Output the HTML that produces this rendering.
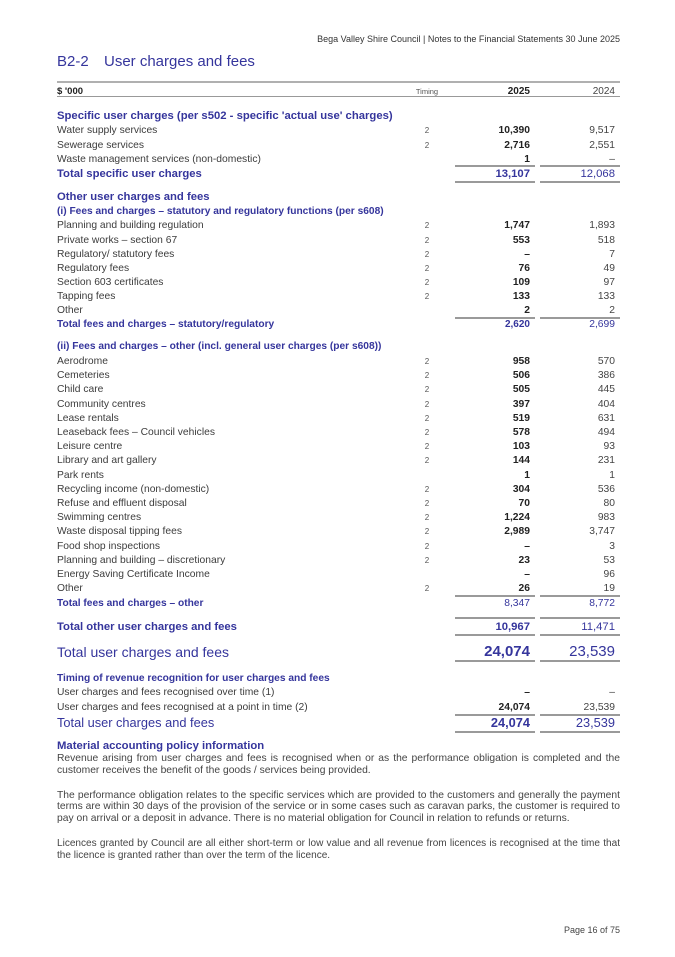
<!DOCTYPE html>
<html><head><meta charset="utf-8"><style>
*{margin:0;padding:0;box-sizing:border-box}
html,body{width:675px;height:957px;background:#fff;overflow:hidden}
body{position:relative;font-family:"Liberation Sans",Arial,sans-serif;color:#3c3c3c}
.a{position:absolute}
.r{position:absolute;left:57px;width:563px;height:14px;line-height:14px;font-size:10.3px;white-space:nowrap}
.r .t{position:absolute;left:360px;width:20px;text-align:center;font-size:8px;color:#555}
.r .c{position:absolute;right:90px;font-weight:bold;color:#222}
.r .d{position:absolute;right:5px;color:#444}
.bl{color:#35359c}
.h{font-weight:bold;color:#35359c}
.ln{position:absolute;height:2px;background:#9a9a9a}
.l1{left:455px;width:80px}
.l2{left:540px;width:80px}
p.par{position:absolute;left:57px;width:563px;font-size:10.3px;line-height:11.8px;text-align:justify;color:#444}
</style></head><body>

<div class="a" style="right:55px;top:33px;font-size:9px;line-height:12px;color:#333">Bega Valley Shire Council | Notes to the Financial Statements 30 June 2025</div>
<div class="a" style="left:57px;top:52px;font-size:15px;line-height:20px;color:#35359c">B2-2</div>
<div class="a" style="left:104px;top:52px;font-size:15px;line-height:20px;color:#35359c;white-space:nowrap">User charges and fees</div>

<div class="a" style="left:57px;top:81px;width:563px;height:2px;background:#b0b0b0"></div>
<div class="r" style="top:85px"><span style="font-weight:bold;color:#222;font-size:9.5px">$ '000</span><span class="t" style="font-size:7.5px;left:355px;width:30px">Timing</span><span class="c" style="font-size:10px">2025</span><span class="d" style="font-size:10px">2024</span></div>
<div class="a" style="left:57px;top:96px;width:563px;height:1px;background:#999"></div>

<div class="r h" style="top:109px;font-size:11.3px">Specific user charges (per s502 - specific 'actual use' charges)</div>
<div class="r" style="top:124px">Water supply services<span class="t">2</span><span class="c">10,390</span><span class="d">9,517</span></div>
<div class="r" style="top:138.5px">Sewerage services<span class="t">2</span><span class="c">2,716</span><span class="d">2,551</span></div>
<div class="r" style="top:152.5px">Waste management services (non-domestic)<span class="c">1</span><span class="d">–</span></div>
<div class="ln l1" style="top:164.5px"></div><div class="ln l2" style="top:164.5px"></div>
<div class="r" style="top:166.5px"><span class="h" style="font-size:11.3px">Total specific user charges</span><span class="c bl" style="font-size:11.3px;color:#35359c">13,107</span><span class="d bl" style="font-size:11.3px;color:#35359c">12,068</span></div>
<div class="ln l1" style="top:180.5px"></div><div class="ln l2" style="top:180.5px"></div>

<div class="r h" style="top:190px;font-size:11.3px">Other user charges and fees</div>
<div class="r h" style="top:205px;font-size:10.2px">(i) Fees and charges – statutory and regulatory functions (per s608)</div>
<div class="r" style="top:219px">Planning and building regulation<span class="t">2</span><span class="c">1,747</span><span class="d">1,893</span></div>
<div class="r" style="top:233.5px">Private works – section 67<span class="t">2</span><span class="c">553</span><span class="d">518</span></div>
<div class="r" style="top:247.5px">Regulatory/ statutory fees<span class="t">2</span><span class="c">–</span><span class="d">7</span></div>
<div class="r" style="top:262px">Regulatory fees<span class="t">2</span><span class="c">76</span><span class="d">49</span></div>
<div class="r" style="top:276px">Section 603 certificates<span class="t">2</span><span class="c">109</span><span class="d">97</span></div>
<div class="r" style="top:290px">Tapping fees<span class="t">2</span><span class="c">133</span><span class="d">133</span></div>
<div class="r" style="top:304px">Other<span class="c">2</span><span class="d">2</span></div>
<div class="ln l1" style="top:316.5px"></div><div class="ln l2" style="top:316.5px"></div>
<div class="r" style="top:318px"><span class="h" style="font-size:10.2px">Total fees and charges – statutory/regulatory</span><span class="c" style="color:#35359c;font-size:10px">2,620</span><span class="d" style="color:#35359c">2,699</span></div>

<div class="r h" style="top:340px;font-size:10.2px">(ii) Fees and charges – other (incl. general user charges (per s608))</div>
<div class="r" style="top:355px">Aerodrome<span class="t">2</span><span class="c">958</span><span class="d">570</span></div>
<div class="r" style="top:369.2px">Cemeteries<span class="t">2</span><span class="c">506</span><span class="d">386</span></div>
<div class="r" style="top:383.4px">Child care<span class="t">2</span><span class="c">505</span><span class="d">445</span></div>
<div class="r" style="top:397.6px">Community centres<span class="t">2</span><span class="c">397</span><span class="d">404</span></div>
<div class="r" style="top:411.8px">Lease rentals<span class="t">2</span><span class="c">519</span><span class="d">631</span></div>
<div class="r" style="top:426px">Leaseback fees – Council vehicles<span class="t">2</span><span class="c">578</span><span class="d">494</span></div>
<div class="r" style="top:440.2px">Leisure centre<span class="t">2</span><span class="c">103</span><span class="d">93</span></div>
<div class="r" style="top:454.4px">Library and art gallery<span class="t">2</span><span class="c">144</span><span class="d">231</span></div>
<div class="r" style="top:468.6px">Park rents<span class="c">1</span><span class="d">1</span></div>
<div class="r" style="top:482.8px">Recycling income (non-domestic)<span class="t">2</span><span class="c">304</span><span class="d">536</span></div>
<div class="r" style="top:497px">Refuse and effluent disposal<span class="t">2</span><span class="c">70</span><span class="d">80</span></div>
<div class="r" style="top:511.2px">Swimming centres<span class="t">2</span><span class="c">1,224</span><span class="d">983</span></div>
<div class="r" style="top:525.4px">Waste disposal tipping fees<span class="t">2</span><span class="c">2,989</span><span class="d">3,747</span></div>
<div class="r" style="top:539.6px">Food shop inspections<span class="t">2</span><span class="c">–</span><span class="d">3</span></div>
<div class="r" style="top:553.8px">Planning and building – discretionary<span class="t">2</span><span class="c">23</span><span class="d">53</span></div>
<div class="r" style="top:568px">Energy Saving Certificate Income<span class="c">–</span><span class="d">96</span></div>
<div class="r" style="top:582.2px">Other<span class="t">2</span><span class="c">26</span><span class="d">19</span></div>
<div class="ln l1" style="top:594.5px"></div><div class="ln l2" style="top:594.5px"></div>
<div class="r" style="top:596.5px"><span class="h" style="font-size:10.2px">Total fees and charges – other</span><span class="c" style="color:#35359c;font-weight:normal">8,347</span><span class="d" style="color:#35359c">8,772</span></div>

<div class="ln l1" style="top:616.5px"></div><div class="ln l2" style="top:616.5px"></div>
<div class="r" style="top:620px"><span class="h" style="font-size:11.3px">Total other user charges and fees</span><span class="c" style="color:#35359c;font-size:11.3px">10,967</span><span class="d" style="color:#35359c;font-size:11.3px">11,471</span></div>
<div class="ln l1" style="top:633.5px"></div><div class="ln l2" style="top:633.5px"></div>

<div class="r" style="top:643px;height:18px;line-height:18px"><span style="font-size:14px;color:#35359c">Total user charges and fees</span><span class="c" style="color:#35359c;font-size:15px">24,074</span><span class="d" style="color:#35359c;font-size:15px">23,539</span></div>
<div class="ln l1" style="top:659.5px"></div><div class="ln l2" style="top:659.5px"></div>

<div class="r h" style="top:672px;font-size:10.2px">Timing of revenue recognition for user charges and fees</div>
<div class="r" style="top:686px">User charges and fees recognised over time (1)<span class="c">–</span><span class="d">–</span></div>
<div class="r" style="top:701px">User charges and fees recognised at a point in time (2)<span class="c">24,074</span><span class="d">23,539</span></div>
<div class="ln l1" style="top:713.5px"></div><div class="ln l2" style="top:713.5px"></div>
<div class="r" style="top:715px;height:16px;line-height:16px"><span style="font-size:12.8px;color:#35359c">Total user charges and fees</span><span class="c" style="color:#35359c;font-size:12.8px">24,074</span><span class="d" style="color:#35359c;font-size:12.8px">23,539</span></div>
<div class="ln l1" style="top:730.5px"></div><div class="ln l2" style="top:730.5px"></div>

<div class="r h" style="top:739px;font-size:11.3px">Material accounting policy information</div>
<p class="par" style="top:753px">Revenue arising from user charges and fees is recognised when or as the performance obligation is completed and the customer receives the benefit of the goods / services being provided.</p>
<p class="par" style="top:789.5px">The performance obligation relates to the specific services which are provided to the customers and generally the payment terms are within 30 days of the provision of the service or in some cases such as caravan parks, the customer is required to pay on arrival or a deposit in advance. There is no material obligation for Council in relation to refunds or returns.</p>
<p class="par" style="top:838px;font-size:10.05px">Licences granted by Council are all either short-term or low value and all revenue from licences is recognised at the time that the licence is granted rather than over the term of the licence.</p>

<div class="a" style="right:55px;top:924px;font-size:9px;line-height:12px;color:#444">Page 16 of 75</div>
</body></html>
